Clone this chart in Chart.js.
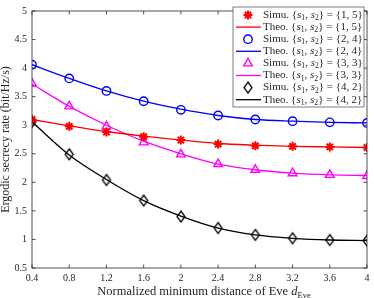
<!DOCTYPE html>
<html>
<head>
<meta charset="utf-8">
<script src="https://cdn.jsdelivr.net/npm/chart.js@4/dist/chart.umd.min.js"></script>
<style>
  html, body { margin: 0; padding: 0; background: #fff; }
  #wrap { width: 374px; height: 298px; }
</style>
</head>
<body>
<div id="wrap"><canvas class="js-chart" width="374" height="298"></canvas></div>
<script>
const ctx = document.querySelector('.js-chart').getContext('2d');
const FONT = '"Liberation Serif", "DejaVu Serif", serif';
const AXIS_COLOR = '#262626';

const dEve = [0.4, 0.8, 1.2, 1.6, 2.0, 2.4, 2.8, 3.2, 3.6, 4.0];
const xTicks = [0.4, 0.8, 1.2, 1.6, 2, 2.4, 2.8, 3.2, 3.6, 4];
const yTicks = [0.5, 1, 1.5, 2, 2.5, 3, 3.5, 4, 4.5, 5];

const pairs = ['1, 5', '2, 4', '3, 3', '4, 2'];

const simu15 = [3.10, 2.98, 2.88, 2.80, 2.74, 2.67, 2.64, 2.63, 2.62, 2.61];
const theo15 = [3.10, 2.99, 2.89, 2.81, 2.74, 2.68, 2.65, 2.63, 2.62, 2.61];
const simu24 = [4.06, 3.82, 3.60, 3.42, 3.27, 3.17, 3.10, 3.07, 3.05, 3.04];
const theo24 = [4.06, 3.82, 3.60, 3.42, 3.28, 3.17, 3.10, 3.07, 3.05, 3.04];
const simu33 = [3.73, 3.33, 2.98, 2.70, 2.49, 2.32, 2.22, 2.16, 2.13, 2.11];
const theo33 = [3.72, 3.33, 3.00, 2.72, 2.50, 2.32, 2.22, 2.16, 2.13, 2.12];
const simu42 = [3.06, 2.49, 2.04, 1.68, 1.40, 1.20, 1.08, 1.02, 0.99, 0.98];
const theo42 = [3.06, 2.48, 2.05, 1.68, 1.41, 1.20, 1.08, 1.02, 0.99, 0.98];

// tall thin diamond like MATLAB's 'd' marker
function makeDiamond(w, h) {
    const c = document.createElement('canvas');
    c.width = w + 4; c.height = h + 4;
    const g = c.getContext('2d');
    g.strokeStyle = '#000';
    g.lineWidth = 1.3;
    g.beginPath();
    g.moveTo(c.width / 2, 2);
    g.lineTo(c.width - 2, c.height / 2);
    g.lineTo(c.width / 2, c.height - 2);
    g.lineTo(2, c.height / 2);
    g.closePath();
    g.stroke();
    return c;
}
const diamond = makeDiamond(8, 11);

function simuSet(pair, data, color, style, radius, bw) {
    return {
        label: 'Simu.', pair, data: data.map((v, i) => ({ x: dEve[i], y: v })),
        showLine: false, borderColor: color, backgroundColor: 'rgba(0,0,0,0)',
        pointStyle: style, pointRadius: radius, pointBorderWidth: bw,
    };
}
function theoSet(pair, data, color) {
    return {
        label: 'Theo.', pair, data: data.map((v, i) => ({ x: dEve[i], y: v })),
        showLine: true, borderColor: color, backgroundColor: color, borderWidth: 1.3,
        pointRadius: 0, cubicInterpolationMode: 'monotone',
    };
}

const datasets = [
    simuSet(pairs[0], simu15, '#ff0000', 'star', 4.5, 2),
    theoSet(pairs[0], theo15, '#ff0000'),
    simuSet(pairs[1], simu24, '#0000ff', 'circle', 4.2, 1.4),
    theoSet(pairs[1], theo24, '#0000ff'),
    simuSet(pairs[2], simu33, '#ff00ff', 'triangle', 5, 1.4),
    theoSet(pairs[2], theo33, '#ff00ff'),
    simuSet(pairs[3], simu42, '#000000', diamond, 5, 1.4),
    theoSet(pairs[3], theo42, '#000000'),
];

// draws "{s1, s2} = {a, b}" with italic s and subscripts
function drawMath(g, x, y, prefix, pair, size) {
    const roman = size + 'px ' + FONT;
    const italic = 'italic ' + size + 'px ' + FONT;
    const sub = (size * 0.7).toFixed(1) + 'px ' + FONT;
    const parts = [
        [roman, prefix + ' {', 0], [italic, 's', 0], [sub, '1', 3], [roman, ', ', 0],
        [italic, 's', 0], [sub, '2', 3], [roman, '} = {' + pair + '}', 0],
    ];
    for (const [f, t, dy] of parts) {
        g.font = f;
        g.fillText(t, x, y + dy);
        x += g.measureText(t).width;
    }
    return x;
}

const framePlugin = {
    id: 'frame',
    afterDatasetsDraw(chart) {
        const { ctx: g, chartArea: a, scales } = chart;
        g.save();
        g.strokeStyle = AXIS_COLOR;
        g.lineWidth = 0.8;
        g.strokeRect(a.left, a.top, a.right - a.left, a.bottom - a.top);
        g.beginPath();
        xTicks.forEach(v => {
            const px = scales.x.getPixelForValue(v);
            g.moveTo(px, a.bottom); g.lineTo(px, a.bottom - 3.5);
            g.moveTo(px, a.top); g.lineTo(px, a.top + 3.5);
        });
        yTicks.forEach(v => {
            const py = scales.y.getPixelForValue(v);
            g.moveTo(a.left, py); g.lineTo(a.left + 3.5, py);
            g.moveTo(a.right, py); g.lineTo(a.right - 3.5, py);
        });
        g.stroke();

        // legend box
        const bx = 233, by = 7, bw = 131, bh = 100, rowH = 12.1;
        g.fillStyle = '#fff';
        g.fillRect(bx, by, bw, bh);
        g.lineWidth = 0.6;
        g.strokeRect(bx, by, bw, bh);
        g.textBaseline = 'middle';
        chart.data.datasets.forEach((ds, i) => {
            const cy = by + 8 + i * rowH;
            if (ds.showLine === false) {
                g.fillStyle = 'rgba(0,0,0,0)';
                g.strokeStyle = ds.borderColor;
                g.lineWidth = ds.pointBorderWidth;
                Chart.helpers.drawPoint(g, {
                    pointStyle: ds.pointStyle, radius: ds.pointRadius,
                    borderWidth: ds.pointBorderWidth, rotation: 0,
                }, 248, cy);
            } else {
                g.strokeStyle = ds.borderColor;
                g.lineWidth = ds.borderWidth;
                g.beginPath();
                g.moveTo(236, cy); g.lineTo(261, cy);
                g.stroke();
            }
            g.fillStyle = AXIS_COLOR;
            drawMath(g, 263, cy, ds.label, ds.pair, 11);
        });

        // x axis title with italic d and subscript Eve
        g.fillStyle = AXIS_COLOR;
        g.textBaseline = 'alphabetic';
        const size = 12.5;
        const main = 'Normalized minimum distance of Eve ';
        g.font = size + 'px ' + FONT;
        const w1 = g.measureText(main).width;
        g.font = 'italic ' + size + 'px ' + FONT;
        const w2 = g.measureText('d').width;
        g.font = '8.5px ' + FONT;
        const w3 = g.measureText('Eve').width;
        let x = 204 - (w1 + w2 + w3) / 2;
        const y = 295;
        g.font = size + 'px ' + FONT;
        g.fillText(main, x, y); x += w1;
        g.font = 'italic ' + size + 'px ' + FONT;
        g.fillText('d', x, y); x += w2;
        g.font = '8.5px ' + FONT;
        g.fillText('Eve', x, y + 2.5);
        g.restore();
    }
};

new Chart(ctx, {
    type: 'scatter',
    data: { datasets },
    plugins: [framePlugin],
    options: {
        responsive: false,
        animation: false,
        layout: { padding: { left: 0, right: 7, top: 5, bottom: 0 } },
        plugins: { legend: { display: false }, tooltip: { enabled: false } },
        elements: { line: { tension: 0 } },
        scales: {
            x: {
                type: 'linear', min: 0.4, max: 4,
                afterBuildTicks(scale) { scale.ticks = xTicks.map(v => ({ value: v })); },
                afterFit(scale) { scale.height = 30; },
                grid: { display: false, drawTicks: false, tickLength: 0 }, border: { display: false },
                ticks: {
                    color: AXIS_COLOR, padding: 4,
                    font: { family: FONT, size: 10 },
                    maxRotation: 0, autoSkip: false,
                    callback: v => String(Math.round(v * 10) / 10),
                },
            },
            y: {
                type: 'linear', min: 0.5, max: 5,
                afterBuildTicks(scale) { scale.ticks = yTicks.map(v => ({ value: v })); },
                afterFit(scale) { scale.width = 32; },
                grid: { display: false, drawTicks: false, tickLength: 0 }, border: { display: false },
                title: {
                    display: true, text: 'Ergodic secrecy rate (bit/Hz/s)',
                    color: AXIS_COLOR, font: { family: FONT, size: 12, lineHeight: 1 }, padding: { top: 0, bottom: 0 },
                },
                ticks: {
                    color: AXIS_COLOR, padding: 5,
                    font: { family: FONT, size: 10 },
                    autoSkip: false,
                    callback: v => String(v),
                },
            },
        },
    },
});
</script>
</body>
</html>
